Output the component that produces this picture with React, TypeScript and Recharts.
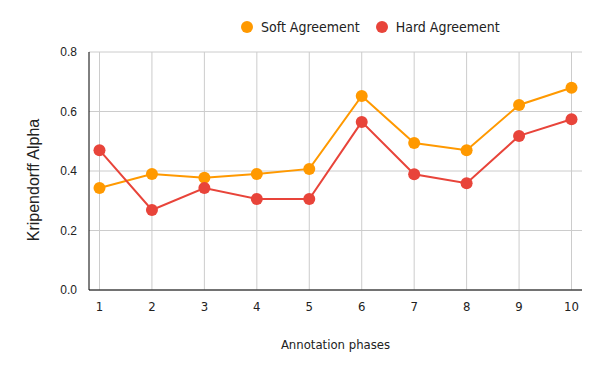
import { LineChart, Line, XAxis, YAxis, CartesianGrid, Label, ReferenceLine } from "recharts";

const phases = [1, 2, 3, 4, 5, 6, 7, 8, 9, 10];
const softAgreement = [0.343, 0.39, 0.377, 0.39, 0.407, 0.652, 0.494, 0.47, 0.622, 0.68];
const hardAgreement = [0.47, 0.269, 0.343, 0.306, 0.306, 0.565, 0.389, 0.359, 0.518, 0.574];
const yTicks = [0, 0.2, 0.4, 0.6, 0.8];

const data = phases.map((p, i) => ({
  phase: p,
  soft: softAgreement[i],
  hard: hardAgreement[i],
}));

const SOFT = "#FF9900";
const HARD = "#E8443A";
const TEXT = "#222222";
const SANS = "'DejaVu Sans Condensed', 'DejaVu Sans'";

function LegendBox() {
  const item = (color: string, text: string, gap: number) => (
    <div style={{ display: "flex", alignItems: "center", marginRight: gap }}>
      <span
        style={{
          width: 12,
          height: 12,
          borderRadius: 6,
          background: color,
          display: "inline-block",
          marginRight: 8,
        }}
      />
      <span style={{ fontSize: 14, lineHeight: "16px", color: TEXT, fontFamily: SANS }}>{text}</span>
    </div>
  );
  return (
    <div style={{ position: "absolute", top: 19, left: 241, display: "flex" }}>
      {item(SOFT, "Soft Agreement", 16)}
      {item(HARD, "Hard Agreement", 0)}
    </div>
  );
}

export default function App() {
  return (
    <div style={{ position: "absolute", left: 0, top: 0, width: 600, height: 371, background: "#fff" }}>
      <LineChart
        width={600}
        height={371}
        data={data}
        margin={{ top: 52, right: 18, bottom: 51, left: 29 }}
      >
        <CartesianGrid stroke="#cccccc" vertical={false} />
        {phases.map((p) => (
          <ReferenceLine key={p} x={p} stroke="#cccccc" />
        ))}
        <XAxis
          dataKey="phase"
          type="number"
          domain={[0.8, 10.2]}
          ticks={phases}
          allowDataOverflow
          stroke="#000"
          tickLine={false}
          tick={{ fill: TEXT, fontSize: 13, fontFamily: SANS }}
          tickMargin={6}
        >
          <Label
            value="Annotation phases"
            position="bottom"
            offset={20}
            style={{ fill: TEXT, fontSize: 13, fontFamily: SANS }}
          />
        </XAxis>
        <YAxis
          width={60}
          domain={[0, 0.8]}
          ticks={yTicks}
          tickFormatter={(v: number) => v.toFixed(1)}
          stroke="#000"
          tickLine={false}
          tick={{ fill: TEXT, fontSize: 12, fontFamily: "Liberation Sans" }}
          tickMargin={6}
        >
          <Label
            content={({ viewBox }: any) => {
              const cx = 33;
              const cy = viewBox.y + viewBox.height / 2 + 9;
              return (
                <text
                  x={cx}
                  y={cy}
                  transform={`rotate(-90, ${cx}, ${cy})`}
                  textAnchor="middle"
                  dominantBaseline="central"
                  fill={TEXT}
                  fontSize={16}
                  fontFamily="Liberation Sans"
                >
                  Kripendorff Alpha
                </text>
              );
            }}
          />
        </YAxis>
        <Line
          dataKey="soft"
          name="Soft Agreement"
          stroke={SOFT}
          strokeWidth={2}
          dot={{ r: 6, fill: SOFT, stroke: SOFT, strokeWidth: 0 }}
          isAnimationActive={false}
        />
        <Line
          dataKey="hard"
          name="Hard Agreement"
          stroke={HARD}
          strokeWidth={2}
          dot={{ r: 6, fill: HARD, stroke: HARD, strokeWidth: 0 }}
          isAnimationActive={false}
        />
      </LineChart>
      <LegendBox />
    </div>
  );
}
